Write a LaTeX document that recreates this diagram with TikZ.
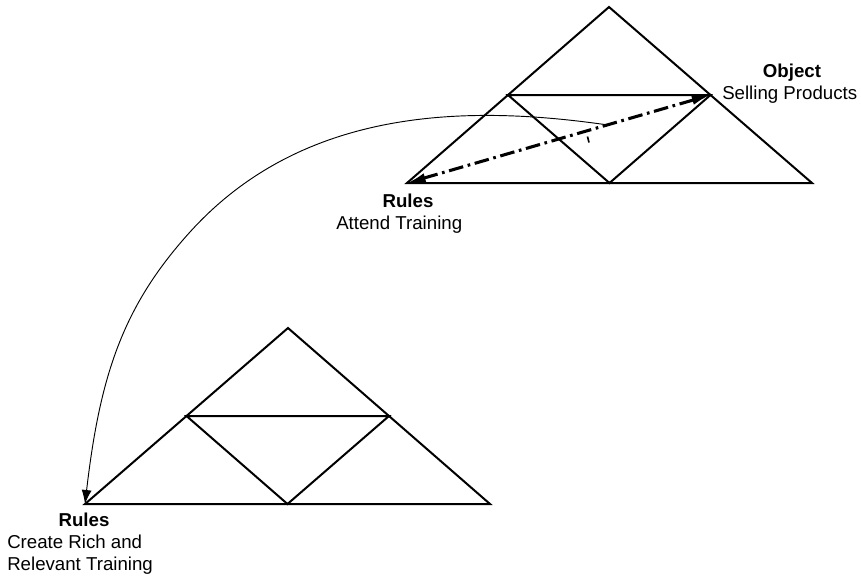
\documentclass[tikz,border=0pt]{standalone}
\usepackage{fontspec}
\setmainfont{Liberation Sans}
\usetikzlibrary{arrows.meta}
\begin{document}
\begin{tikzpicture}[x=0.75pt,y=-0.75pt,
  tri/.style={line width=1.5pt, line join=miter},
  lbl/.style={font=\fontsize{14}{16.5}\selectfont, inner sep=0pt},
  bold/.style={lbl, font=\fontsize{14}{16.5}\selectfont\bfseries},
  dashdot/.style={line width=2.3pt, dash pattern=on 11pt off 3.5pt on 2pt off 3.5pt,
    {Latex[length=14pt,width=7pt]}-{Latex[length=14pt,width=7pt]}},
  link/.style={line width=0.7pt, -{Latex[length=10.5pt,width=7.5pt]}}]
\useasboundingbox (0,0) rectangle (861,579);
% top triangle
\coordinate (A1) at (609,7);
\coordinate (L1) at (407,183);
\coordinate (R1) at (812,183);
\coordinate (ml1) at (508,95);
\coordinate (mr1) at (710.5,95);
\coordinate (mb1) at (609.5,183);
\draw[tri] (A1) -- (R1) -- (L1) -- cycle;
\draw[tri] (ml1) -- (mr1) -- (mb1) -- cycle;
% bottom triangle
\coordinate (A2) at (288,328);
\coordinate (L2) at (85,504);
\coordinate (R2) at (490,504);
\coordinate (ml2) at (186.5,416);
\coordinate (mr2) at (389,416);
\coordinate (mb2) at (287.5,504);
\draw[tri] (A2) -- (R2) -- (L2) -- cycle;
\draw[tri] (ml2) -- (mr2) -- (mb2) -- cycle;
% dash-dot double arrow
\draw[dashdot] (L1) -- (mr1);
\draw[line width=1.2pt] (587.5,136.5) -- (589,142.5);
% curved link
\coordinate (cs) at (608,125);
\coordinate (cm) at (190,232);
\draw[link] (cs) .. controls (470,105) and (304,106) .. (cm)
  .. controls (123,306) and (100,375) .. (L2);
% labels
\node[bold, anchor=base] (obj) at (792,77) {Object};
\node[lbl, anchor=base west] (sell) at (722,99) {Selling Products};
\node[bold, anchor=base] (r1) at (408,207) {Rules};
\node[lbl, anchor=base west] (att) at (336,229) {Attend Training};
\node[bold, anchor=base] (r2) at (84,526) {Rules};
\node[lbl, anchor=base west] (cr) at (7,548) {Create Rich and};
\node[lbl, anchor=base west] (rel) at (7,570) {Relevant Training};
\end{tikzpicture}
\end{document}
